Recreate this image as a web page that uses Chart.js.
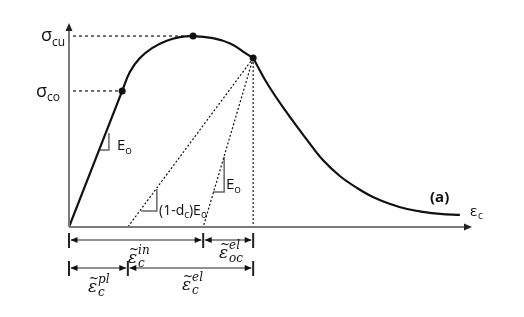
<!DOCTYPE html>
<html>
<head>
<meta charset="utf-8">
<script src="https://cdn.jsdelivr.net/npm/chart.js@4"></script>
<style>
  html, body { margin: 0; padding: 0; background: #fff; }
</style>
</head>
<body>
<canvas id="stressStrain" width="524" height="317"></canvas>
<script>
// elastic branch (origin -> sigma_co)
const linStrain = [0, 1.32];
const linStress = [0, 0.667];

// hardening branch up to the unloading point
const riseStrain = [1.32, 1.51, 1.76, 2.06, 2.41, 2.75, 3.08, 3.57, 4.00, 4.32, 4.57];
const riseStress = [0.667, 0.760, 0.828, 0.877, 0.912, 0.931, 0.936, 0.926, 0.900, 0.860, 0.828];

// softening branch
const fallStrain = [4.57, 4.91, 5.41, 5.91, 6.30, 6.72, 7.15, 7.54, 7.97, 8.39, 8.78, 9.21, 9.70];
const fallStress = [0.828, 0.706, 0.559, 0.426, 0.328, 0.250, 0.191, 0.147, 0.113, 0.088, 0.074, 0.064, 0.059];

// marked points: sigma_co, sigma_cu, unloading point
const markStrain = [1.32, 3.08, 4.57];
const markStress = [0.667, 0.936, 0.828];

// unloading lines end on the strain axis
const unloadEnds = [1.46, 3.33, 4.57];

// slope triangles
const triE0aX = [0.77, 0.99, 0.99], triE0aY = [0.378, 0.378, 0.461];
const triE0bX = [3.57, 3.85, 3.85], triE0bY = [0.172, 0.172, 0.343];
const triDcX = [1.79, 2.18, 2.18], triDcY = [0.078, 0.078, 0.186];

// dimension rows under the axis (strain positions)
const dimRow1 = [0, 3.33, 4.57];
const dimRow2 = [0, 1.46, 4.57];

const zip = (xs, ys) => xs.map((x, i) => ({ x, y: ys[i] }));

const INK = '#111';
const AXIS_GRAY = '#7a7a7a';
const SANS = '"Open Sans", sans-serif';
const SERIF = '"DejaVu Serif", serif';

function arrowHead(ctx, x, y, dx, dy, len, half, color) {
    ctx.save();
    ctx.fillStyle = color;
    ctx.beginPath();
    ctx.moveTo(x, y);
    ctx.lineTo(x - dx * len - dy * half, y - dy * len + dx * half);
    ctx.lineTo(x - dx * len + dy * half, y - dy * len - dx * half);
    ctx.closePath();
    ctx.fill();
    ctx.restore();
}

function subText(ctx, x, y, main, sub, size, subSize, font) {
    ctx.font = size + 'px ' + font;
    ctx.fillText(main, x, y);
    const w = ctx.measureText(main).width;
    ctx.font = subSize + 'px ' + font;
    ctx.fillText(sub, x + w, y + size * 0.25);
    return w + ctx.measureText(sub).width;
}

// tilde epsilon with super/subscripts, x,y = baseline-left
function epsLabel(ctx, x, y, sup, sub) {
    ctx.save();
    ctx.fillStyle = INK;
    ctx.font = 'italic 17px ' + SERIF;
    ctx.fillText('\u03b5', x, y);
    const w = ctx.measureText('\u03b5').width;
    ctx.font = 'italic 12px ' + SERIF;
    ctx.fillText('~', x + 1, y - 10);
    ctx.fillText(sup, x + w + 1, y - 9);
    ctx.fillText(sub, x + w + 1, y + 4);
    ctx.restore();
}

const decorPlugin = {
    id: 'decor',
    afterDatasetsDraw(chart) {
        const { ctx, scales: { x, y } } = chart;
        const x0 = x.getPixelForValue(0);
        const y0 = y.getPixelForValue(0);
        const xEnd = x.getPixelForValue(10);
        const yTop = y.getPixelForValue(1);

        // axes
        ctx.save();
        ctx.strokeStyle = AXIS_GRAY;
        ctx.lineWidth = 2;
        ctx.beginPath();
        ctx.moveTo(x0, y0);
        ctx.lineTo(x0, yTop + 5);
        ctx.moveTo(x0, y0);
        ctx.lineTo(xEnd - 5, y0);
        ctx.stroke();
        ctx.restore();
        arrowHead(ctx, x0, yTop, 0, -1, 8, 3.5, '#222');
        arrowHead(ctx, xEnd, y0, 1, 0, 8, 3.5, '#222');

        // dimension rows
        const rows = [[dimRow1, 240, 233, 248], [dimRow2, 268, 261, 276]];
        rows.forEach(([vals, ry, t1, t2]) => {
            const px = vals.map(v => x.getPixelForValue(v));
            ctx.save();
            ctx.strokeStyle = '#222';
            ctx.lineWidth = 2;
            ctx.beginPath();
            px.forEach(p => { ctx.moveTo(p, t1); ctx.lineTo(p, t2); });
            ctx.stroke();
            ctx.lineWidth = 1;
            ctx.beginPath();
            for (let i = 0; i < px.length - 1; i++) {
                ctx.moveTo(px[i] + 2, ry);
                ctx.lineTo(px[i + 1] - 2, ry);
            }
            ctx.stroke();
            ctx.restore();
            for (let i = 0; i < px.length - 1; i++) {
                arrowHead(ctx, px[i] + 1.5, ry, -1, 0, 7, 3, '#111');
                arrowHead(ctx, px[i + 1] - 1.5, ry, 1, 0, 7, 3, '#111');
            }
        });

        // stress labels
        ctx.save();
        ctx.fillStyle = INK;
        ctx.textBaseline = 'alphabetic';
        subText(ctx, 41, y.getPixelForValue(markStress[1]) + 5, '\u03c3', 'cu', 18, 12, SANS);
        subText(ctx, 36, y.getPixelForValue(markStress[0]) + 6, '\u03c3', 'co', 18, 12, SANS);

        // modulus labels
        subText(ctx, 117, 150, 'E', 'o', 15, 11, SANS);
        subText(ctx, 226, 189, 'E', 'o', 15, 11, SANS);
        let cx = 159;
        ctx.font = '14px ' + SANS;
        ctx.fillText('(1-d', cx, 215);
        cx += ctx.measureText('(1-d').width;
        ctx.font = '10px ' + SANS;
        ctx.fillText('c', cx, 218);
        cx += ctx.measureText('c').width;
        ctx.font = '14px ' + SANS;
        ctx.fillText(')E', cx, 215);
        cx += ctx.measureText(')E').width;
        ctx.font = '10px ' + SANS;
        ctx.fillText('o', cx, 218);

        // panel tag and axis name
        ctx.font = 'bold 15px ' + SANS;
        ctx.fillText('(a)', 430, 202);
        ctx.font = '15px ' + SANS;
        ctx.fillText('\u03b5', 470, 216);
        ctx.font = '10px ' + SANS;
        ctx.fillText('c', 478, 219);
        ctx.restore();

        // strain component labels
        epsLabel(ctx, 128, 263, 'in', 'c');
        epsLabel(ctx, 219, 258, 'el', 'oc');
        epsLabel(ctx, 88, 292, 'pl', 'c');
        epsLabel(ctx, 182, 290, 'el', 'c');
    }
};

const dashed = (pts, dash) => ({
    data: pts, showLine: true, borderColor: INK, borderWidth: 1.2,
    borderDash: dash, pointRadius: 0, tension: 0
});
const tri = (xs, ys) => ({
    data: zip(xs, ys), showLine: true, borderColor: '#666', borderWidth: 1.5,
    pointRadius: 0, tension: 0
});
const solid = (xs, ys, extra) => Object.assign({
    data: zip(xs, ys), showLine: true, borderColor: INK, borderWidth: 2.2, pointRadius: 0
}, extra);

new Chart(document.getElementById('stressStrain'), {
    type: 'scatter',
    data: {
        datasets: [
            solid(linStrain, linStress, { tension: 0 }),
            solid(riseStrain, riseStress, { tension: 0.4 }),
            solid(fallStrain, fallStress, { tension: 0.4 }),
            dashed([{ x: 0.1, y: markStress[1] }, { x: markStrain[1], y: markStress[1] }], [3, 3]),
            dashed([{ x: 0.1, y: markStress[0] }, { x: markStrain[0], y: markStress[0] }], [3, 3]),
            ...unloadEnds.map(e => dashed([{ x: markStrain[2], y: markStress[2] }, { x: e, y: 0 }], [2, 2])),
            tri(triE0aX, triE0aY),
            tri(triE0bX, triE0bY),
            tri(triDcX, triDcY),
            { data: zip(markStrain, markStress), showLine: false, pointRadius: 3.5, pointBackgroundColor: INK, pointBorderColor: INK, pointBorderWidth: 0 }
        ]
    },
    options: {
        responsive: false,
        animation: false,
        devicePixelRatio: 1,
        layout: { padding: { left: 69, right: 52, top: 23, bottom: 90 } },
        plugins: { legend: { display: false }, tooltip: { enabled: false } },
        elements: { line: { clip: false } },
        scales: {
            x: { type: 'linear', min: 0, max: 10, display: false },
            y: { type: 'linear', min: 0, max: 1, display: false }
        }
    },
    plugins: [decorPlugin]
});
</script>
</body>
</html>
